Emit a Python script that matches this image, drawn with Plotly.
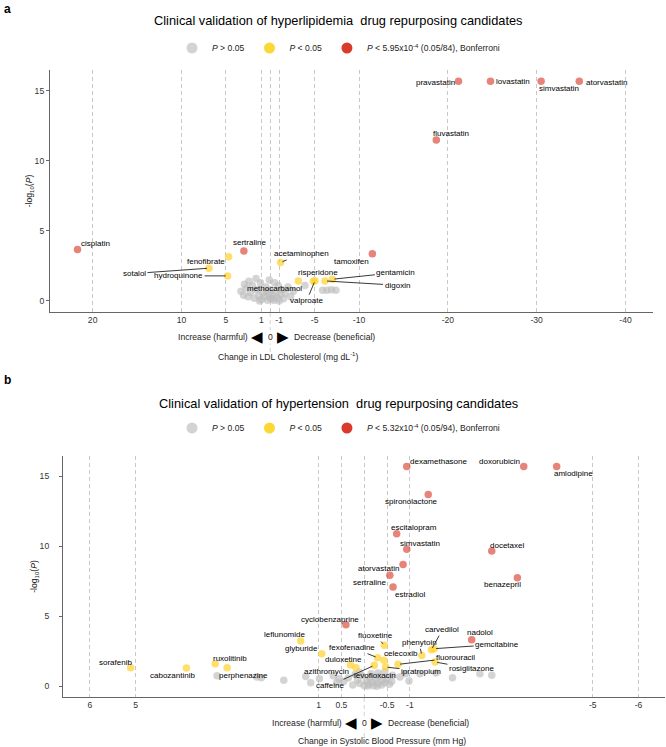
import plotly.graph_objects as go

FONT = "Liberation Sans, Arial, Helvetica, sans-serif"
W, H = 666, 747

# ---------------- Panel a : LDL cholesterol ----------------
a_red_names = ["cisplatin", "sertraline", "tamoxifen", "fluvastatin",
               "pravastatin", "lovastatin", "simvastatin", "atorvastatin"]
a_red_x = [21.7, 2.97, -11.5, -18.7, -21.2, -24.8, -30.5, -34.8]
a_red_y = [3.68, 3.56, 3.37, 11.5, 15.7, 15.7, 15.7, 15.7]

a_yel_names = ["sotalol", "fenofibrate", "hydroquinone", "acetaminophen",
               "methocarbamol", "risperidone", "valproate", "digoxin", "gentamicin"]
a_yel_x = [6.9, 4.69, 4.8, -1.17, -3.16, -4.85, -5.04, -6.17, -7.0]
a_yel_y = [2.34, 3.15, 1.79, 2.75, 1.43, 1.41, 1.45, 1.43, 1.55]

a_gray_x = [3.3, 3.0, 2.7, 2.5, 2.2, 2.0, 1.8, 1.5, 1.3, 1.1, 1.0, 0.8, 0.6, 0.5,
            0.3, 0.2, 0.0, -0.1, -0.3, -0.4, -0.6, -0.8, -0.9, -1.1, -1.3, -1.5,
            -1.7, -2.0, -2.3, -2.6, 0.4, -0.2, 1.6, -3.9, -5.9, -6.4, -6.9, -7.4,
            2.9, -0.5, 1.2, -1.0, 0.1, 2.4]
a_gray_y = [0.7, 0.4, 0.9, 0.3, 0.6, 1.1, 0.2, 0.8, 0.4, 1.3, 0.1, 0.6, 0.3, 1.0,
            0.05, 0.5, 0.2, 0.8, 0.35, 0.05, 0.6, 0.2, 1.1, 0.45, 0.8, 0.15,
            0.55, 1.0, 0.3, 0.7, 0.7, 0.15, 1.6, 1.1, 0.77, 0.77, 0.8, 0.77,
            1.2, 1.3, 0.0, 0.0, 1.5, 1.4]

a_tickvals = [20, 10, 5, 1, 0, -1, -5, -10, -20, -30, -40]
a_ticktext = ["20", "10", "5", "1", "", "-1", "-5", "-10", "-20", "-30", "-40"]

# ---------------- Panel b : systolic blood pressure ----------------
b_red_names = ["dexamethasone", "doxorubicin", "amlodipine", "spironolactone",
               "escitalopram", "simvastatin", "docetaxel", "atorvastatin",
               "sertraline", "estradiol", "benazepril", "cyclobenzaprine", "nadolol"]
b_red_x = [-0.93, -3.49, -4.21, -1.40, -0.71, -0.93, -2.79, -0.85, -0.56, -0.63,
           -3.35, 0.40, -2.35]
b_red_y = [15.7, 15.7, 15.7, 13.7, 10.9, 9.79, 9.67, 8.71, 7.93, 7.09, 7.76, 4.40, 3.33]

b_yel_names = ["sorafenib", "cabozantinib", "ruxolitinib", "perphenazine",
               "leflunomide", "glyburide", "duloxetine", "levofloxacin",
               "fluoxetine", "fexofenadine", "celecoxib", "caffeine", "ipratropium",
               "fluorouracil", "phenytoin", "carvedilol", "gemcitabine", "rosiglitazone"]
b_yel_x = [5.11, 3.89, 3.26, 3.0, 1.39, 0.93, 0.30, 0.18, -0.44, -0.29, -0.43,
           -0.22, -0.47, -0.74, -1.26, -1.47, -1.53, -1.55]
b_yel_y = [1.33, 1.31, 1.62, 1.33, 3.24, 2.33, 1.52, 1.33, 2.93, 2.05, 1.86,
           1.5, 1.38, 1.57, 2.21, 2.62, 2.69, 1.74]

b_gray_names = ["azithromycin"]
b_gray_named_x = [0.68]
b_gray_named_y = [0.75]
b_gray_x = [3.22, 2.35, 2.25, 1.76, 1.28, 1.17, 0.98, 0.60, 0.55, 0.45, 0.35,
            0.25, 0.15, 0.10, 0.05, 0.0, -0.05, -0.10, -0.12, -0.18, -0.20, -0.25,
            -0.30, -0.33, -0.38, -0.40, -0.45, -0.50, -0.55, -0.60, -0.30, -0.15,
            0.10, -0.45, -0.62, 0.20, -0.08, -0.28, -0.78, -0.98, -1.22, -1.57,
            -1.93, -2.53, -2.79, -0.90]
b_gray_y = [0.76, 0.67, 0.62, 0.43, 0.71, 0.26, 0.55, 0.30, 0.55, 0.35, 0.60,
            0.10, 0.45, 0.20, 0.75, 0.05, 0.40, 0.15, 0.60, 0.30, 0.05, 0.50,
            0.20, 0.70, 0.10, 0.40, 0.25, 0.55, 0.15, 0.35, 0.95, 0.90,
            1.00, 1.05, 0.80, 0.85, 0.02, 0.00, 0.67, 0.38, 0.90, 0.95,
            0.62, 0.90, 0.79, 0.90]

b_tickvals = [6, 5, 1, 0.5, 0, -0.5, -1, -5, -6]
b_ticktext = ["6", "5", "1", "0.5", "", "-0.5", "-1", "-5", "-6"]

y_tickvals = [0, 5, 10, 15]

# label offsets in screen pixels (dx, dy, draw segment)
a_label_pos = {
    "pravastatin": (-23, 1, False), "lovastatin": (22.5, 0, False),
    "simvastatin": (17.7, 7, False), "atorvastatin": (27, 1, False),
    "fluvastatin": (15, -6.7, False), "tamoxifen": (-21, 7.3, False),
    "gentamicin": (63.5, -6.7, True), "digoxin": (72, 4.3, True),
    "cisplatin": (18, -6, False), "sertraline": (5.7, -8.8, False),
    "fenofibrate": (-22.7, 5, False), "sotalol": (-74.5, 5.3, True),
    "hydroquinone": (-49, 0, True), "acetaminophen": (20.5, -8.5, True),
    "risperidone": (4.7, -8.8, False), "valproate": (-8.3, 20, True),
    "methocarbamol": (-24.3, 7.6, False),
}
b_label_pos = {
    "dexamethasone": (31.8, -4.6, False), "doxorubicin": (-24, -4.6, False),
    "amlodipine": (16.6, 7, False), "spironolactone": (-16.3, 7, False),
    "escitalopram": (17.3, -6, False), "simvastatin": (13.3, -5.3, False),
    "docetaxel": (15, -5.4, False), "atorvastatin": (-24.3, 4, False),
    "sertraline": (-20.3, 7.3, False), "estradiol": (16.7, 7, False),
    "benazepril": (-14.6, 6.7, False), "cyclobenzaprine": (-15.7, -5, False),
    "nadolol": (8.8, -7.3, False),
    "sorafenib": (-14.7, -5.6, False), "cabozantinib": (-14.2, 7, False),
    "ruxolitinib": (14.7, -5, False), "perphenazine": (16.7, 7.4, False),
    "leflunomide": (-15.7, -6, False), "glyburide": (-20, -5.3, False),
    "duloxetine": (-7, -5.3, False), "azithromycin": (-6.7, -4.5, False),
    "caffeine": (-44, 20, True), "levofloxacin": (19, 7.5, False),
    "fluoxetine": (-8.5, -9.8, True), "fexofenadine": (-25, -10, True),
    "celecoxib": (16.8, -6.7, False), "ipratropium": (35.3, 4, True),
    "fluorouracil": (57.4, -6.7, True), "phenytoin": (-2.7, -12.7, True),
    "carvedilol": (11, -20, True), "gemcitabine": (63, -4.3, True),
    "rosiglitazone": (36.4, 6.6, True),
}

RED, YEL, GRAY = "#D7301F", "#FDD12E", "#BDBDBD"
LEG_RED, LEG_YEL, LEG_GRAY = "#D93A2B", "#FDD835", "#D3D3D3"


def px(v):
    return v / W


def py(v):
    return (H - v) / H


fig = go.Figure()

panels = [
    dict(xa="x", ya="y", leg="legend",
         red=(a_red_x, a_red_y, a_red_names), yel=(a_yel_x, a_yel_y, a_yel_names),
         gray=(a_gray_x, a_gray_y), named_gray=([], [], []),
         bonf="<i>P</i> &lt; 5.95x10<sup>-4</sup> (0.05/84), Bonferroni",
         labels=a_label_pos),
    dict(xa="x2", ya="y2", leg="legend2",
         red=(b_red_x, b_red_y, b_red_names), yel=(b_yel_x, b_yel_y, b_yel_names),
         gray=(b_gray_x, b_gray_y),
         named_gray=(b_gray_named_x, b_gray_named_y, b_gray_names),
         bonf="<i>P</i> &lt; 5.32x10<sup>-4</sup> (0.05/94), Bonferroni",
         labels=b_label_pos),
]

annotations = []
for p in panels:
    gx = list(p["gray"][0]) + list(p["named_gray"][0])
    gy = list(p["gray"][1]) + list(p["named_gray"][1])
    fig.add_trace(go.Scatter(x=gx, y=gy, mode="markers", xaxis=p["xa"], yaxis=p["ya"],
                             marker=dict(color=GRAY, size=7.5, opacity=0.65, line=dict(width=0)),
                             showlegend=False, hoverinfo="skip"))
    fig.add_trace(go.Scatter(x=p["yel"][0], y=p["yel"][1], mode="markers",
                             xaxis=p["xa"], yaxis=p["ya"], text=p["yel"][2],
                             marker=dict(color=YEL, size=7.5, opacity=0.7, line=dict(width=0)),
                             showlegend=False))
    fig.add_trace(go.Scatter(x=p["red"][0], y=p["red"][1], mode="markers",
                             xaxis=p["xa"], yaxis=p["ya"], text=p["red"][2],
                             marker=dict(color=RED, size=7.5, opacity=0.6, line=dict(width=0)),
                             showlegend=False))
    # legend entries
    for name, col in [("<i>P</i> &gt; 0.05", LEG_GRAY), ("<i>P</i> &lt; 0.05", LEG_YEL),
                      (p["bonf"], LEG_RED)]:
        fig.add_trace(go.Scatter(x=[None], y=[None], mode="markers", name=name,
                                 xaxis=p["xa"], yaxis=p["ya"], legend=p["leg"],
                                 marker=dict(color=col, size=11)))
    # point labels
    for xs, ys, names in [p["red"], p["yel"], p["named_gray"]]:
        for x, y, n in zip(xs, ys, names):
            dx, dy, seg = p["labels"][n]
            common = dict(x=x, y=y, xref=p["xa"], yref=p["ya"], text=n,
                          font=dict(family=FONT, size=8, color="black"))
            if seg:
                annotations.append(dict(common, showarrow=True, ax=dx, ay=dy,
                                        arrowhead=0, arrowwidth=0.9, arrowcolor="#222",
                                        standoff=2))
            else:
                annotations.append(dict(common, showarrow=False, xshift=dx, yshift=-dy))

# panel letters and titles
annotations += [
    dict(x=px(2), y=py(0), xref="paper", yref="paper", text="<b>a</b>", showarrow=False,
         xanchor="left", yanchor="top", font=dict(family=FONT, size=12, color="black")),
    dict(x=px(2), y=py(371), xref="paper", yref="paper", text="<b>b</b>", showarrow=False,
         xanchor="left", yanchor="top", font=dict(family=FONT, size=12, color="black")),
    dict(x=px(338.5), y=py(20), xref="paper", yref="paper", showarrow=False,
         text="Clinical validation of hyperlipidemia  drug repurposing candidates",
         font=dict(family=FONT, size=12.8, color="black"), yanchor="middle"),
    dict(x=px(338.5), y=py(403), xref="paper", yref="paper", showarrow=False,
         text="Clinical validation of hypertension  drug repurposing candidates",
         font=dict(family=FONT, size=12.8, color="black"), yanchor="middle"),
]

# direction rows and axis titles
for xa, row_y, title_y, title in [
        ("x", 337, 356, "Change in LDL Cholesterol (mg dL<sup>-1</sup>)"),
        ("x2", 722.5, 741, "Change in Systolic Blood Pressure (mm Hg)")]:
    f = dict(family=FONT, size=8.6, color="#222")
    annotations += [
        dict(x=0, y=py(row_y), xref=xa, yref="paper", text="0", showarrow=False,
             font=f, bgcolor="white", yanchor="middle"),
        dict(x=0, y=py(row_y), xref=xa, yref="paper", text="◀", showarrow=False,
             font=dict(family="DejaVu Sans", size=15, color="black"),
             xanchor="right", xshift=-5, yanchor="middle"),
        dict(x=0, y=py(row_y), xref=xa, yref="paper", text="▶", showarrow=False,
             font=dict(family="DejaVu Sans", size=15, color="black"),
             xanchor="left", xshift=5, yanchor="middle"),
        dict(x=0, y=py(row_y), xref=xa, yref="paper", text="Increase (harmful)",
             showarrow=False, font=f, xanchor="right", xshift=-20, yanchor="middle"),
        dict(x=0, y=py(row_y), xref=xa, yref="paper", text="Decrease (beneficial)",
             showarrow=False, font=f, xanchor="left", xshift=22, yanchor="middle"),
        dict(x=0, y=py(title_y), xref=xa, yref="paper", text=title, showarrow=False,
             font=f, xshift=18, yanchor="middle"),
    ]

grid = dict(showgrid=True, gridcolor="#C8C8C8", gridwidth=0.8, griddash="4px,3px",
            zeroline=False, showline=True, linecolor="#666", linewidth=1.2,
            ticks="", tickfont=dict(family=FONT, size=8.6, color="#333"))
yax = dict(showgrid=False, zeroline=False, showline=True, linecolor="#666",
           linewidth=1.2, ticks="outside", ticklen=3, tickcolor="#666",
           tickvals=y_tickvals, tickfont=dict(family=FONT, size=8.6, color="#333"),
           title=dict(text="-log<sub>10</sub>(<i>P</i>)",
                      font=dict(family=FONT, size=8.6, color="#222"), standoff=0))

shapes = []
for xa, y0, y1 in [("x", py(352), py(312)), ("x2", py(737), py(697))]:
    shapes.append(dict(type="line", xref=xa, yref="paper", x0=0, x1=0, y0=y0, y1=y1,
                       line=dict(color="#C8C8C8", width=0.8, dash="4px,3px"), layer="below"))

legend_common = dict(orientation="h", xanchor="center", yanchor="middle",
                     font=dict(family=FONT, size=8.6, color="#222"),
                     bgcolor="rgba(0,0,0,0)", itemwidth=30, tracegroupgap=0,
                     borderwidth=0)

fig.update_layout(
    width=W, height=H, margin=dict(l=0, r=0, t=0, b=0),
    paper_bgcolor="white", plot_bgcolor="white",
    font=dict(family=FONT),
    xaxis=dict(grid, domain=[px(50), px(653)], range=[24.8, -43.1],
               tickvals=a_tickvals, ticktext=a_ticktext, anchor="y"),
    yaxis=dict(yax, domain=[py(312), py(70)], range=[-0.79, 16.5], anchor="x"),
    xaxis2=dict(grid, domain=[px(63), px(665)], range=[6.59, -6.58],
                tickvals=b_tickvals, ticktext=b_ticktext, anchor="y2"),
    yaxis2=dict(yax, domain=[py(697), py(456)], range=[-0.76, 16.45], anchor="x2",
                ticklabelstandoff=8),
    legend=dict(legend_common, x=px(338.5), y=py(48)),
    legend2=dict(legend_common, x=px(338.5), y=py(428)),
    annotations=annotations,
    shapes=shapes,
    showlegend=True,
)

fig.write_html("out.html", config={"displayModeBar": False},
               post_script="document.body.style.margin='0px';")
